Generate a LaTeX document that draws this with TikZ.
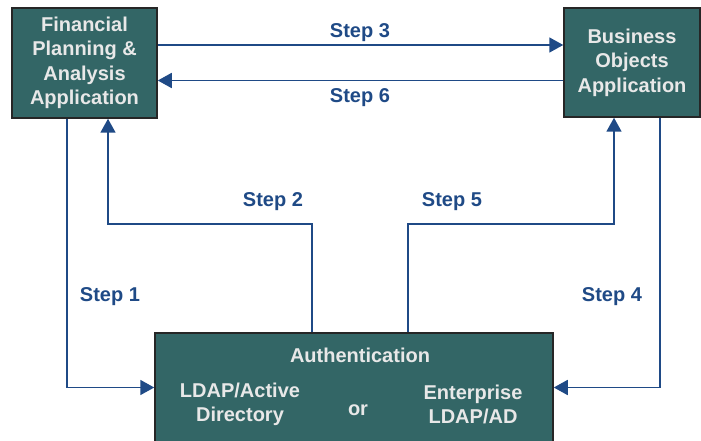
\documentclass[tikz,border=0pt]{standalone}
\usepackage{fontspec}
\setmainfont{Liberation Sans}
\usetikzlibrary{arrows.meta, positioning}
\definecolor{boxteal}{HTML}{336666}
\definecolor{boxtext}{HTML}{E8E8E8}
\definecolor{flowblue}{HTML}{1F4A86}

\begin{document}
\begin{tikzpicture}[x=1pt, y=-1pt,
    appbox/.style={draw=black!85, line width=1.5pt, fill=boxteal, text=boxtext,
      font=\bfseries\fontsize{20}{24.5}\selectfont, align=center, inner sep=0pt},
    authtext/.style={text=boxtext, font=\bfseries\fontsize{20}{24.5}\selectfont, align=center},
    flow/.style={draw=flowblue, line width=1.8pt, -{Triangle[length=14pt,width=15pt]}},
    steplabel/.style={text=flowblue, font=\bfseries\fontsize{20}{24}\selectfont}]
  \useasboundingbox (0,0) rectangle (701,441);
  % the three boxes
  \node[appbox, minimum width=145pt, minimum height=110pt] (fpa) at (84.5,63)
    {Financial\\Planning \&\\Analysis\\Application};
  \node[appbox, minimum width=136pt, minimum height=109pt] (boa) at (632,62.5)
    {Business\\Objects\\Application};
  \node[appbox, minimum width=398pt, minimum height=109pt] (auth) at (354,387.5) {};
  \node[authtext] (authtitle) at (360,355) {Authentication};
  \node[authtext] (ldap) at (240,404.5) {LDAP/Active\\Directory};
  \node[authtext] (or) at (358,410) {or};
  \node[authtext] (entldap) at (473,404.5) {Enterprise\\LDAP/AD};
  % connectors
  \draw[flow] ([xshift=-17.5pt]fpa.south) |- (auth.west);
  \draw[flow] ([xshift=-42pt]auth.north) -- ++(0,-108) -| ([xshift=23.5pt]fpa.south);
  \draw[flow] ([yshift=18pt]fpa.east) -- ([yshift=18pt]fpa.east -| boa.west);
  \draw[flow] ([xshift=28pt]boa.south) |- (auth.east);
  \draw[flow] ([xshift=54pt]auth.north) -- ++(0,-108) -| ([xshift=-18pt]boa.south);
  \draw[flow] ([yshift=-18pt]boa.west) -- ([yshift=-18pt]boa.west -| fpa.east);
  % step labels
  \node[steplabel] (s1) at (110,297) {Step 1};
  \node[steplabel] (s2) at (273,202) {Step 2};
  \node[steplabel] (s3) at (360,33) {Step 3};
  \node[steplabel] (s4) at (612,297) {Step 4};
  \node[steplabel] (s5) at (452,202) {Step 5};
  \node[steplabel] (s6) at (360,98) {Step 6};
\end{tikzpicture}
\end{document}
